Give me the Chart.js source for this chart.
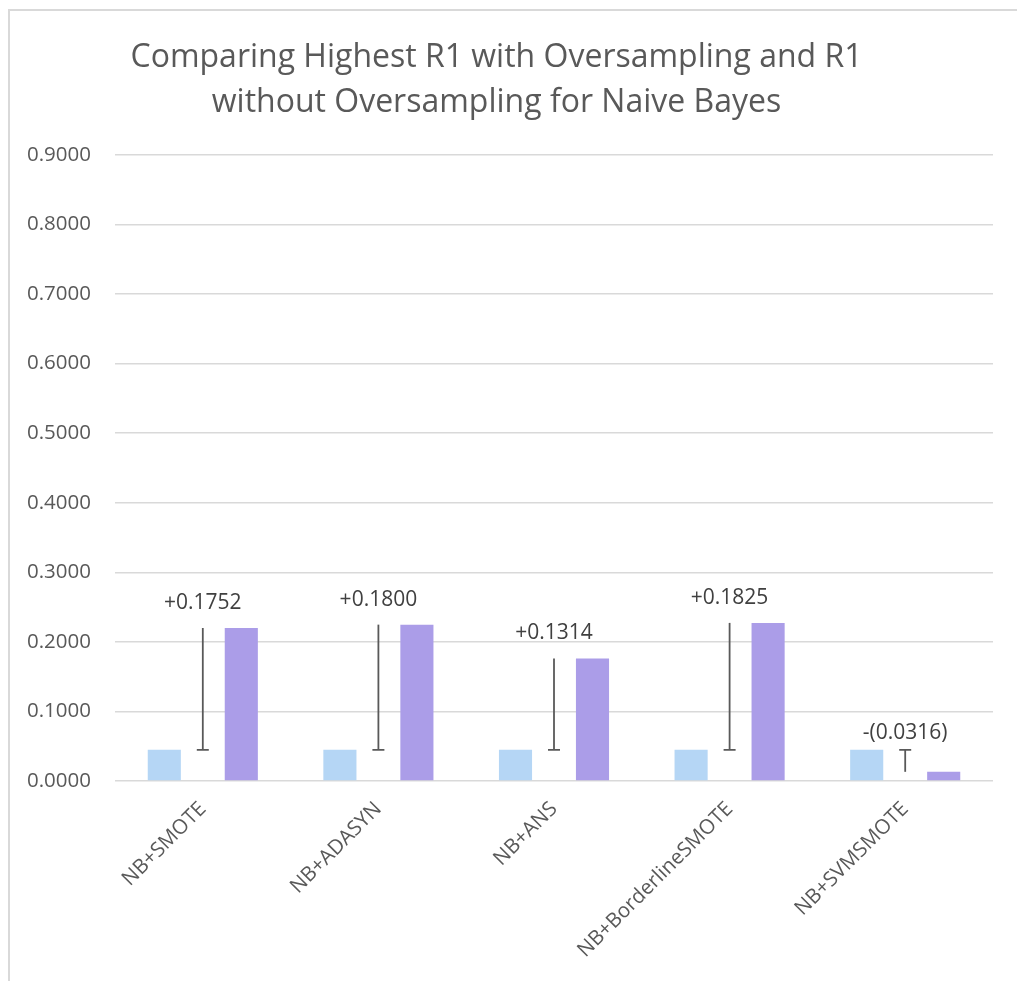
<!DOCTYPE html>
<html>
<head>
<meta charset="utf-8">
<script src="https://cdn.jsdelivr.net/npm/chart.js@4.4.0/dist/chart.umd.min.js"></script>
<style>
  body { margin: 0; background: #fff; }
  #wrap { position: relative; width: 1017px; height: 981px; overflow: hidden; }
  #marco { position: absolute; left: 8px; top: 9px; width: 1100px; height: 1100px;
           border-left: 2px solid #d9d9d9; border-top: 2px solid #d9d9d9; }
  canvas { position: absolute; left: 0; top: 0; }
</style>
</head>
<body>
<div id="wrap">
  <div id="marco"></div>
  <canvas id="r1" width="1017" height="981"></canvas>
</div>
<script>
const metodos = ['NB+SMOTE', 'NB+ADASYN', 'NB+ANS', 'NB+BorderlineSMOTE', 'NB+SVMSMOTE'];
const sinOversampling = [0.0448, 0.0448, 0.0448, 0.0448, 0.0448];
const conOversampling = [0.2200, 0.2248, 0.1762, 0.2273, 0.0132];
const diferencias = ['+0.1752', '+0.1800', '+0.1314', '+0.1825', '-(0.0316)'];
const ejeMax = 0.9;
const ejePaso = 0.1;

const gris = '#595959';
const fuente = "'Open Sans', 'Noto Sans', sans-serif";

// etiqueta de la diferencia encima de cada linea
const etiquetas = {
    id: 'etiquetas',
    afterDatasetsDraw(chart) {
        let ctx = chart.ctx;
        let x = chart.scales.x;
        let y = chart.scales.y;
        ctx.save();
        ctx.font = '21px ' + fuente;
        ctx.fillStyle = '#404040';
        ctx.textAlign = 'center';
        ctx.textBaseline = 'middle';
        for (let i = 0; i < metodos.length; i++) {
            let arriba = Math.max(sinOversampling[i], conOversampling[i]);
            let sube = conOversampling[i] >= sinOversampling[i] ? 25 : 17;
            ctx.fillText(diferencias[i], x.getPixelForValue(i), y.getPixelForValue(arriba) - sube);
        }
        ctx.restore();
    }
};

let grafico = new Chart(document.getElementById('r1'), {
    type: 'bar',
    data: {
        labels: metodos,
        datasets: [{
            label: 'R1 sin oversampling',
            data: sinOversampling,
            backgroundColor: '#b5d6f5',
            categoryPercentage: 0.877,
            barPercentage: 0.43,
            order: 2
        }, {
            label: 'R1 con oversampling',
            data: conOversampling,
            backgroundColor: '#ab9de8',
            categoryPercentage: 0.877,
            barPercentage: 0.43,
            order: 2
        }, {
            label: 'diferencia',
            data: sinOversampling.map((b, i) => [b, conOversampling[i]]),
            backgroundColor: gris,
            grouped: false,
            maxBarThickness: 1.8,
            order: 1
        }, {
            type: 'line',
            label: 'base',
            data: sinOversampling,
            showLine: false,
            pointStyle: 'line',
            pointRadius: 6,
            pointBorderWidth: 1.8,
            pointBorderColor: gris,
            order: 0
        }]
    },
    options: {
        responsive: false,
        animation: false,
        layout: { padding: { left: 0, right: 24, top: 0, bottom: 0 } },
        plugins: {
            legend: { display: false },
            tooltip: { enabled: false },
            title: {
                display: true,
                text: ['Comparing Highest R1 with Oversampling and R1', 'without Oversampling for Naive Bayes'],
                color: gris,
                font: { family: fuente, size: 32, weight: 'normal', lineHeight: 1.406 },
                padding: { top: 35, bottom: 30 }
            }
        },
        scales: {
            x: {
                grid: { display: false },
                border: { display: false },
                ticks: {
                    color: gris,
                    font: { family: fuente, size: 20.5 },
                    minRotation: 45,
                    maxRotation: 45,
                    padding: 8
                },
                afterFit: function(s) { s.height = 200; }
            },
            y: {
                min: 0,
                max: ejeMax,
                grid: { color: '#d9d9d9', lineWidth: 1.5, drawTicks: false },
                border: { display: false },
                ticks: {
                    stepSize: ejePaso,
                    color: gris,
                    font: { family: fuente, size: 20.5 },
                    padding: 24,
                    callback: v => v.toFixed(4)
                },
                afterFit: function(s) { s.width = 115; }
            }
        }
    },
    plugins: [etiquetas]
});
</script>
</body>
</html>
